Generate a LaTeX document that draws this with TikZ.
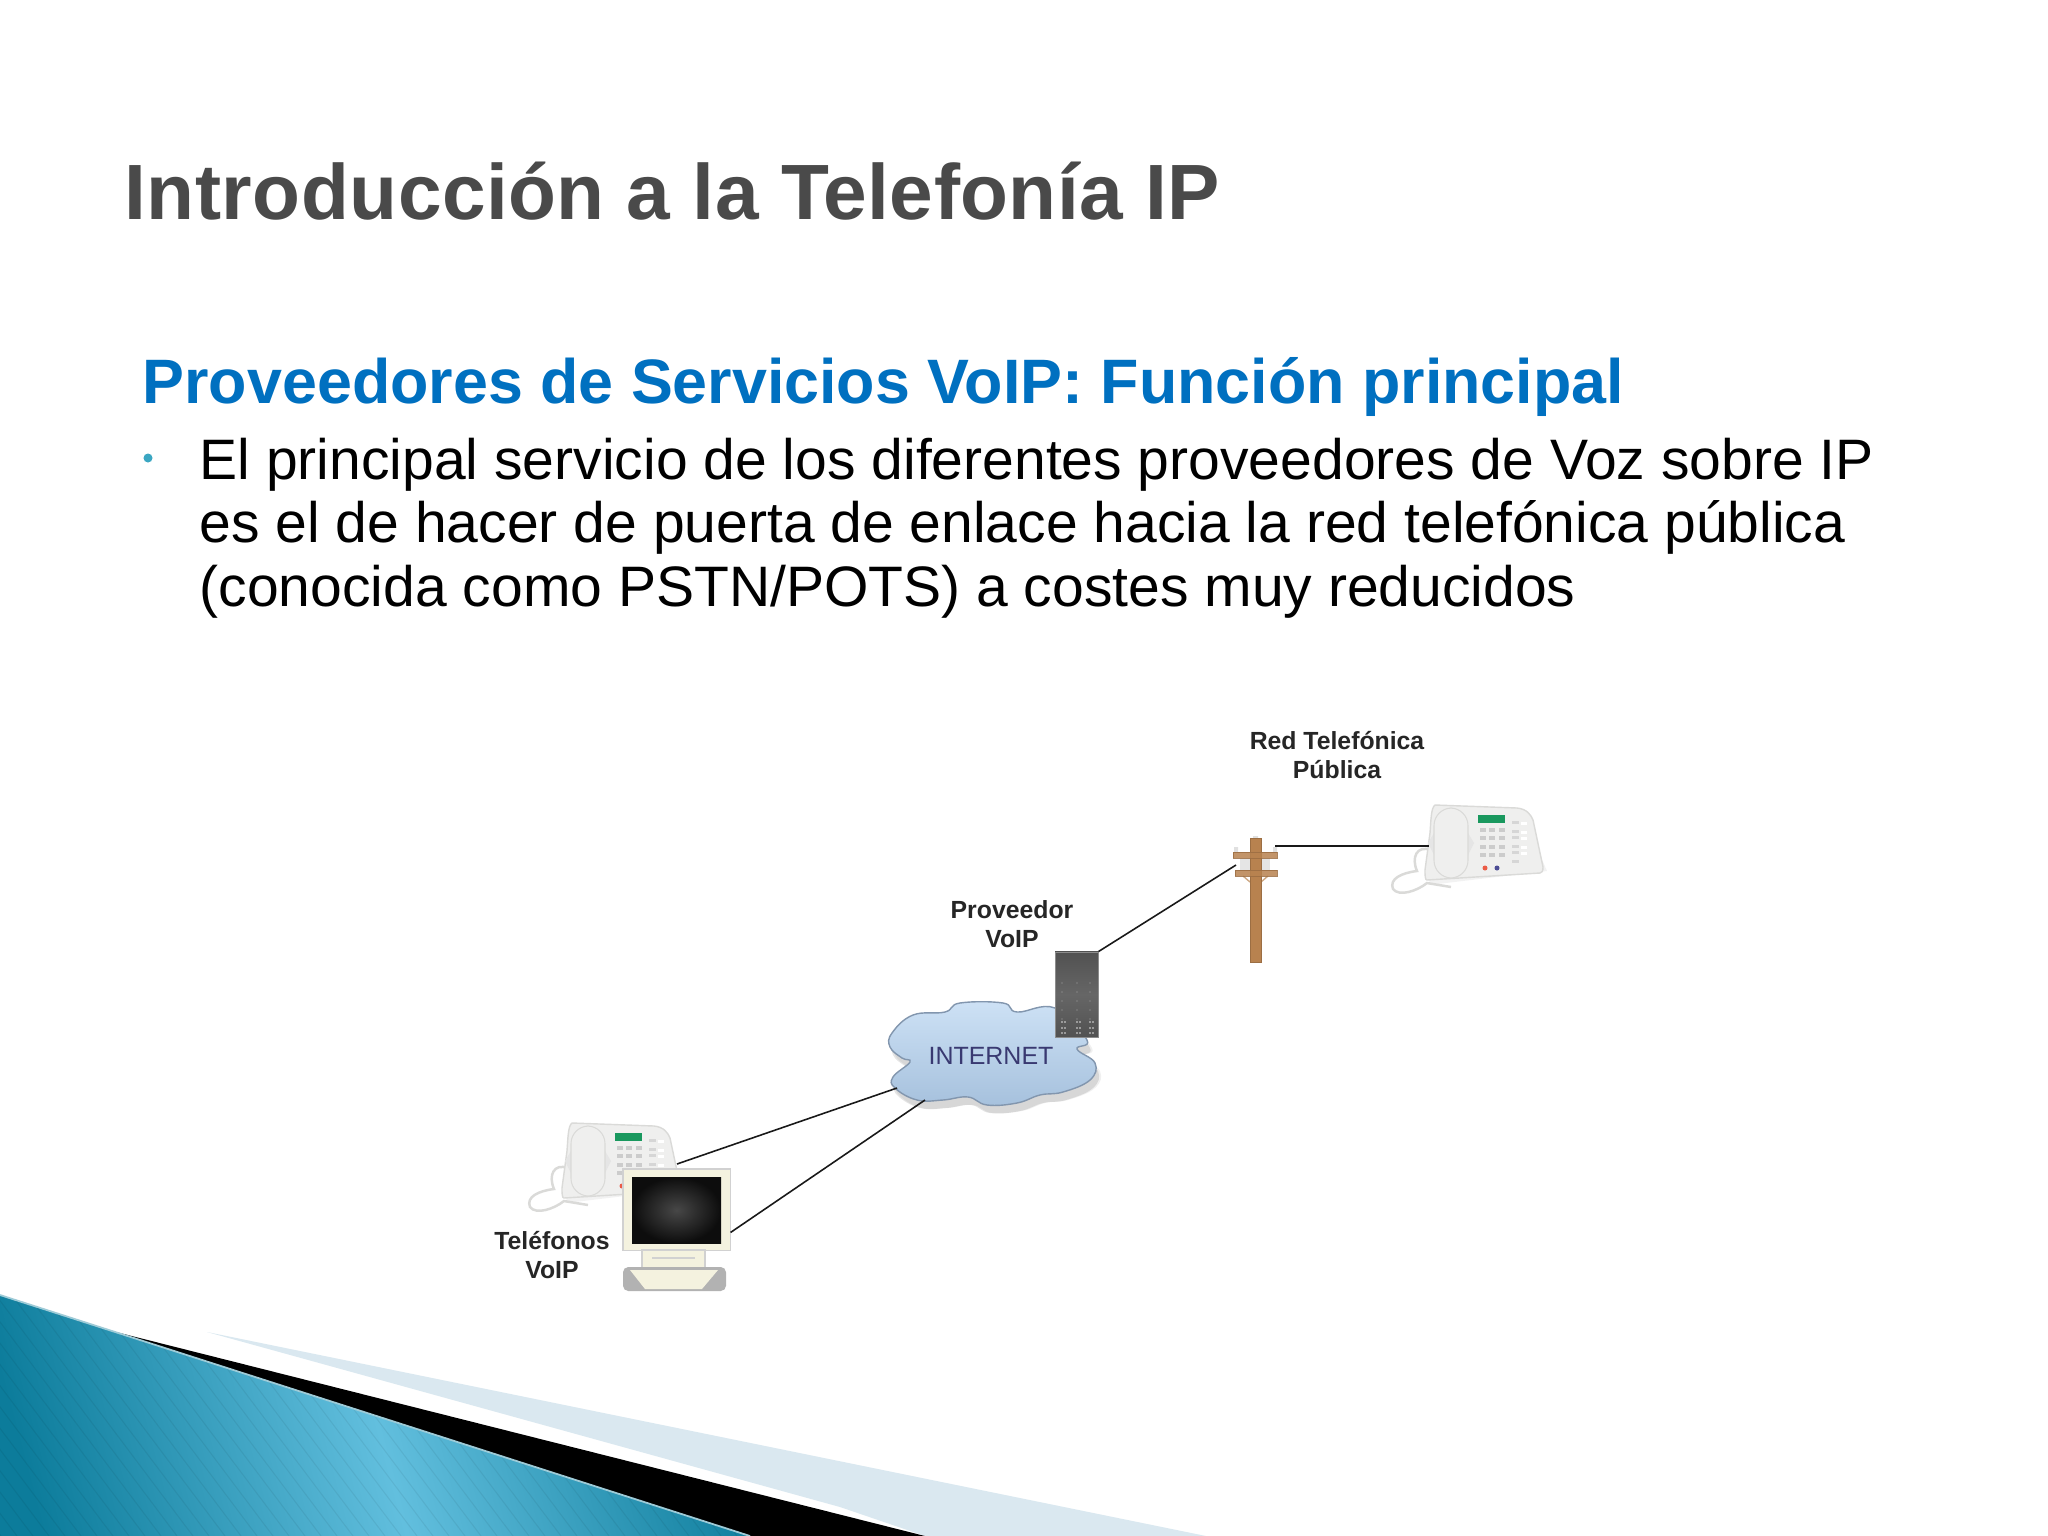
\documentclass[tikz,border=0pt]{standalone}
\usepackage{fontspec}
\setmainfont{Liberation Sans}
\newfontfamily\titlefont[LetterSpace=.6]{Liberation Sans}
\definecolor{titlegray}{HTML}{4A4A4A}
\definecolor{headblue}{HTML}{0070C0}
\definecolor{dotteal}{HTML}{3AA6C2}
\definecolor{wedgedark}{HTML}{0C7C9B}
\definecolor{wedgelight}{HTML}{62BFDE}
\definecolor{wedgepale}{HTML}{DAE8F0}
\definecolor{phonewhite}{HTML}{EFEFEE}
\definecolor{phoneedge}{HTML}{DADAD8}
\definecolor{cream}{HTML}{F4F2DF}
\definecolor{polebrown}{HTML}{B8824F}
\definecolor{cloudtop}{HTML}{CDE1F5}
\definecolor{cloudbot}{HTML}{A6C1DD}
\definecolor{cloudedge}{HTML}{8296AE}
\tikzset{
  tag/.style={font=\fontsize{7.05}{8.2}\selectfont\bfseries,text=black!85,align=center,inner sep=0pt},
  wire/.style={draw=black!90,line width=.45pt},
  phone/.pic={
    \fill[black,opacity=.05] (12,4) -- (96,6) -- (122,66) -- (4,80) -- cycle;
    \draw[phoneedge,line width=.7pt] (6,45) .. controls (-8,40) and (-14,52) .. (-8,66)
      .. controls (-24,68) and (-36,74) .. (-32,84) .. controls (-26,92) and (-8,86) .. (2,78) -- (26,82);
    \draw[phoneedge,fill=phonewhite,line width=.4pt] (10,0) -- (92,3) .. controls (102,4) and (106,10) .. (108,15)
      -- (118,62) .. controls (118,66) and (117,68) .. (115,68) -- (2,75) .. controls (0,75) and (0,70) .. (0,65)
      -- (5,28) .. controls (6,15) and (6,3) .. (10,0) -- cycle;
    \fill[black!10] (9,28) -- (3,38) -- (9,50) -- cycle (43,28) -- (49,38) -- (43,50) -- cycle;
    \draw[phoneedge,fill=phonewhite,line width=.3pt,rounded corners=5pt] (9,3) rectangle (43,73);
    \fill[teal!70!green!85!black!90] (53,10) rectangle (80,18);
    \foreach \kx in {58,67,77} \foreach \ky in {25,33,42,50} \fill[black!20] (\kx-3,\ky-2) rectangle +(6,3.5);
    \foreach \ky in {18,27,33,42,48,57} \fill[black!16] (87,\ky-2) rectangle +(7,3);
    \foreach \ky in {18,27,33,42,48} \fill[white] (96,\ky-1) rectangle +(6,2.5);
    \fill[red!60!brown!80] (60,63) circle (2.5);
    \fill[blue!40!black!70] (72,63) circle (2.5);
  },
  ridge/.style={fill=polebrown,draw=black!15!polebrown,line width=.2pt},
}
\begin{document}
\begin{tikzpicture}[x=.01cm,y=-.01cm]
  \useasboundingbox (0,0) rectangle (2048,1536);
  \fill[white] (0,0) rectangle (2048,1536);

  \fill[wedgepale] (207,1332) -- (1206,1536) -- (925,1536) -- (840,1507) -- cycle;
  \fill[black] (108,1330) -- (925,1536) -- (750,1536) -- cycle;
  \begin{scope}
    \clip (0,1295) -- (750,1536) -- (0,1536) -- cycle;
    \shade[left color=wedgedark,right color=wedgedark,middle color=wedgelight,shading angle=105] (-40,1295) rectangle (790,1536);
    \foreach \sx in {-200,-184,...,760} \draw[black,opacity=.06,line width=.3pt] (\sx,1290) -- (\sx+185,1536);
  \end{scope}
  \draw[white!60!wedgedark,line width=.5pt] (0,1295) -- (750,1536);

  \draw
    (124,219) node[anchor=base west,inner sep=0pt,text=titlegray,font=\fontsize{22.3}{24}\titlefont\bfseries] (title){Introducción a la Telefonía IP}
    (142,403) node[anchor=base west,inner sep=0pt,text=headblue,font=\fontsize{17.85}{20}\selectfont\bfseries] (heading){Proveedores de Servicios VoIP: Función principal}
    (199,606) node[anchor=base west,inner sep=0pt,align=left,font=\fontsize{16.22}{18}\selectfont] (body){El principal servicio de los diferentes proveedores de Voz sobre IP\\es el de hacer de puerta de enlace hacia la red telefónica pública\\(conocida como PSTN/POTS) a costes muy reducidos}
    (148,458) node[circle,fill=dotteal,inner sep=0pt,minimum size=.09cm] (dot){};

  \pic at (562,1123) {phone};
  \pic at (1425,805) {phone};

  \foreach \cs/\co in {5/.06,3/.10} \fill[black,opacity=\co,shift={(\cs,8)}] plot[smooth cycle,tension=.7] coordinates {(892,1033) (913,1015) (945,1012) (960,1003) (1003,1003) (1017,1012) (1055,1008) (1087,1040) (1077,1049) (1095,1063) (1090,1080) (1063,1092) (1040,1095) (1017,1103) (987,1105) (968,1097) (943,1100) (917,1100) (895,1088) (893,1077) (910,1062) (902,1058) (890,1047)};
  \draw[draw=cloudedge,line width=.4pt,top color=cloudtop,bottom color=cloudbot] plot[smooth cycle,tension=.7] coordinates {(892,1033) (913,1015) (945,1012) (960,1003) (1003,1003) (1017,1012) (1055,1008) (1087,1040) (1077,1049) (1095,1063) (1090,1080) (1063,1092) (1040,1095) (1017,1103) (987,1105) (968,1097) (943,1100) (917,1100) (895,1088) (893,1077) (910,1062) (902,1058) (890,1047)};

  \draw
    (991,1056) node[inner sep=0pt,text=black!60!blue!55!gray,font=\fontsize{7.1}{9}\selectfont] (inet){INTERNET}
    (1076.5,994.5) node[inner sep=0pt,minimum width=.43cm,minimum height=.85cm,draw=black!45,top color=black!68,bottom color=black!68,middle color=black!60,line width=.2pt] (server){}
    (676.5,1209.5) node[inner sep=0pt,minimum width=1.07cm,minimum height=.81cm,fill=cream,draw=black!18,line width=.3pt] (monitor){}
    (1337,778) node[tag,anchor=base] (redtag){Red Telefónica\\Pública}
    (1012,947) node[tag,anchor=base] (provtag){Proveedor\\VoIP}
    (552,1278) node[tag,anchor=base] (teltag){Teléfonos\\VoIP};

  \foreach \lx in {1062,1077,1090} \foreach \ly in {983,992,...,1019} \fill[black!35] (\lx,\ly) circle (.7);
  \foreach \lx in {1062,1065,1077,1080,1090,1093} \foreach \ly in {1022,1028,1033} \fill[black!12] (\lx,\ly) circle (.9);

  \shade[inner color=black!72,outer color=black!95] (632,1177) rectangle (721,1243);
  \fill[cream,draw=black!18,line width=.3pt] (642,1250) rectangle (705,1268);
  \draw[black!18,line width=.3pt] (652,1258) -- (695,1258);
  \fill[black!30,rounded corners=1.5pt] (623,1267) rectangle (726,1291);
  \fill[cream] (630,1270) -- (718,1270) -- (702,1289) -- (645,1289) -- cycle;

  \fill[black!12] (1234,847) rectangle (1238,852) (1273,847) rectangle (1277,852) (1253,836) rectangle (1258,840);
  \fill[black!10] (1240,858) rectangle (1270,870);
  \draw[polebrown!70!white,line width=.4pt] (1243,876) -- (1250,882) (1268,876) -- (1261,882);
  \fill[ridge] (1250,838) rectangle (1261,962);
  \fill[ridge,opacity=.85] (1233,852) rectangle (1277,858);
  \fill[ridge,opacity=.85] (1235,870) rectangle (1277,876);

  \coordinate (phoneA) at (677,1164);
  \coordinate (phoneB) at (1429,846);
  \coordinate (inetA) at (897,1088);
  \coordinate (inetB) at (925,1100);
  \coordinate (poleA) at (1236,865);
  \coordinate (poleB) at (1275,846);
  \begin{scope}[-]
    \draw[wire] (phoneA) to (inetA);
    \draw[wire] (monitor.-23) to (inetB);
    \draw[wire] (server.north east) to (poleA);
    \draw[wire] (poleB) to (phoneB);
  \end{scope}
\end{tikzpicture}
\end{document}
